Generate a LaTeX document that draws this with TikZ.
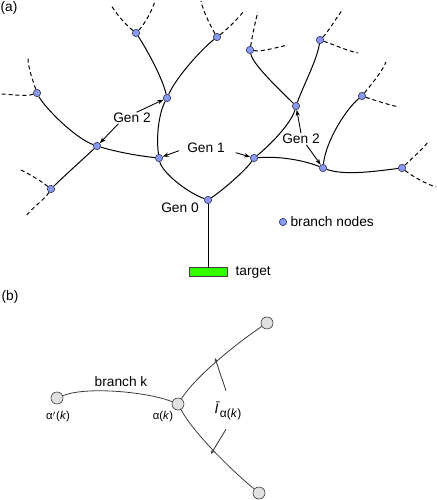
\documentclass[tikz,border=0pt]{standalone}
\usepackage{fontspec}
\setmainfont{Liberation Sans}
\usetikzlibrary{arrows.meta}
\definecolor{nodeblue}{RGB}{135,155,240}
\definecolor{nodeedge}{RGB}{60,60,100}
\definecolor{tgreen}{RGB}{51,255,0}
\definecolor{lgray}{RGB}{224,224,224}
\definecolor{dgray}{RGB}{60,60,60}
\begin{document}
\begin{tikzpicture}[x=0.75pt,y=-0.75pt,
  bn/.style={circle,fill=nodeblue,draw=nodeedge,line width=0.5pt,minimum size=5.5pt,inner sep=0pt},
  brline/.style={line width=0.75pt},
  dashleaf/.style={line width=0.75pt,dash pattern=on 3pt off 2.2pt},
  genarr/.style={line width=0.65pt,-{Stealth[length=4.5pt,width=3.2pt]}},
  lbl/.style={font=\fontsize{10.3pt}{12pt}\selectfont,inner sep=1pt},
  gn/.style={circle,fill=lgray,draw=dgray,line width=0.5pt,minimum size=9pt,inner sep=0pt},
  barc/.style={draw=dgray,line width=0.6pt},
  iarr/.style={draw=dgray,line width=0.65pt,-{Stealth[length=3pt,width=2.4pt]}},
  alabel/.style={font=\fontsize{8.5pt}{10pt}\selectfont,inner sep=0pt}
]
\useasboundingbox (0,0) rectangle (436,500);

% ---------- (a) ----------
\node[lbl] (pa) at (9,8) {(a)};

\node[bn] (N0) at (208,200) {};
\node[bn] (L1) at (159,158) {};
\node[bn] (R1) at (254,158) {};
\node[bn] (L2a) at (97,146) {};
\node[bn] (L2b) at (167,98) {};
\node[bn] (R2a) at (296,106) {};
\node[bn] (R2b) at (323,168) {};
\node[bn] (La1) at (37,93) {};
\node[bn] (La2) at (51,189) {};
\node[bn] (Lb1) at (136,33) {};
\node[bn] (Lb2) at (217,37) {};
\node[bn] (Ra1) at (250,50) {};
\node[bn] (Ra2) at (320,40) {};
\node[bn] (Rb1) at (362,96) {};
\node[bn] (Rb2) at (402,168) {};

\node[draw=black!75,fill=tgreen,line width=0.6pt,minimum width=28.5pt,minimum height=6.75pt,inner sep=0pt] (tg) at (208,272) {};
\node[lbl,anchor=west] (tgt) at (234,272) {target};

\node[bn] (lg) at (283,222) {};
\node[lbl,anchor=west] (lgt) at (289,222) {branch nodes};

% solid branches
\draw[brline] (N0) -- (tg);
\draw[brline] (N0) .. controls +(-22,-8) and +(3,14) .. (L1);
\draw[brline] (N0) .. controls +(15,-10) and +(-8,12) .. (R1);
\draw[brline] (L1) .. controls +(-20,-2) and +(20,6) .. (L2a);
\draw[brline] (L1) .. controls +(-3,-22) and +(-8,15) .. (L2b);
\draw[brline] (L2a) .. controls +(-22,-8) and +(8,15) .. (La1);
\draw[brline] (L2a) .. controls +(-15,14) and +(10,-10) .. (La2);
\draw[brline] (L2b) .. controls +(-5,-22) and +(8,12) .. (Lb1);
\draw[brline] (L2b) .. controls +(10,-22) and +(-15,12) .. (Lb2);
\draw[brline] (R1) .. controls +(15,-12) and +(-5,18) .. (R2a);
\draw[brline] (R1) .. controls +(25,-2) and +(-20,-8) .. (R2b);
\draw[brline] (R2a) .. controls +(-15,-15) and +(3,15) .. (Ra1);
\draw[brline] (R2a) .. controls +(8,-22) and +(-3,20) .. (Ra2);
\draw[brline] (R2b) .. controls +(3,-28) and +(-15,12) .. (Rb1);
\draw[brline] (R2b) .. controls +(22,8) and +(-25,3) .. (Rb2);

% dashed continuations
\coordinate (da1) at (28,58);  \coordinate (da2) at (0,94);
\coordinate (db1) at (21,170); \coordinate (db2) at (26,216);
\coordinate (dc1) at (111,5);  \coordinate (dc2) at (155,1);
\coordinate (dd1) at (201,1);  \coordinate (dd2) at (243,12);
\coordinate (de1) at (258,12); \coordinate (de2) at (288,45);
\coordinate (df1) at (343,9);  \coordinate (df2) at (358,53);
\coordinate (dg1) at (386,62); \coordinate (dg2) at (399,107);
\coordinate (dh1) at (428,142);\coordinate (dh2) at (436,187);
\draw[dashleaf] (La1) .. controls +(-4,-12) and +(0,10) .. (da1);
\draw[dashleaf] (La1) .. controls +(-12,4) and +(10,0) .. (da2);
\draw[dashleaf] (La2) .. controls +(-10,-8) and +(10,5) .. (db1);
\draw[dashleaf] (La2) .. controls +(-6,10) and +(6,-8) .. (db2);
\draw[dashleaf] (Lb1) .. controls +(-10,-8) and +(6,10) .. (dc1);
\draw[dashleaf] (Lb1) .. controls +(8,-8) and +(-3,10) .. (dc2);
\draw[dashleaf] (Lb2) .. controls +(-6,-10) and +(2,10) .. (dd1);
\draw[dashleaf] (Lb2) .. controls +(8,-6) and +(-6,8) .. (dd2);
\draw[dashleaf] (Ra1) .. controls +(2,-12) and +(-3,10) .. (de1);
\draw[dashleaf] (Ra1) .. controls +(12,2) and +(-10,2) .. (de2);
\draw[dashleaf] (Ra2) .. controls +(8,-8) and +(-6,8) .. (df1);
\draw[dashleaf] (Ra2) .. controls +(12,4) and +(-10,-2) .. (df2);
\draw[dashleaf] (Rb1) .. controls +(8,-10) and +(-4,10) .. (dg1);
\draw[dashleaf] (Rb1) .. controls +(12,4) and +(-10,-2) .. (dg2);
\draw[dashleaf] (Rb2) .. controls +(8,-8) and +(-6,8) .. (dh1);
\draw[dashleaf] (Rb2) .. controls +(10,8) and +(-10,-3) .. (dh2);

% generation labels
\node[lbl] (g2l) at (132,118) {Gen 2};
\node[lbl] (g1) at (206,148) {Gen 1};
\node[lbl] (g0) at (180,208) {Gen 0};
\node[lbl] (g2r) at (301,139) {Gen 2};
\draw[genarr] ([xshift=3.5pt,yshift=-0.5pt]g2l.north) -- (L2b);
\draw[genarr] ([xshift=5pt,yshift=0.5pt]g2l.south west) -- (L2a);
\draw[genarr] ([xshift=-5pt,yshift=-2pt]g1.west) -- (L1);
\draw[genarr] ([xshift=7pt,yshift=-3.5pt]g1.east) -- (R1);
\draw[genarr] ([yshift=-0.5pt]g2r.north) -- (R2a);
\draw[genarr] ([xshift=4pt,yshift=0.5pt]g2r.south) -- (R2b);

% ---------- (b) ----------
\node[lbl] (pb) at (10,297) {(b)};
\node[gn] (ap) at (57,398) {};
\node[gn] (ak) at (178,404) {};
\node[gn] (bt) at (267,323) {};
\node[gn] (bb) at (259,493) {};
\draw[barc] (ap) .. controls +(30,-12) and +(-30,-12) .. (ak);
\draw[barc] (ak) .. controls +(18,-28) and +(-30,20) .. (bt);
\draw[barc] (ak) .. controls +(15,28) and +(-30,-25) .. (bb);
\node[lbl] (bk) at (121,382) {branch k};
\node[alabel] (apl) at (58,417) {α$'$(\textit{k})};
\node[alabel] (akl) at (163,417) {α(\textit{k})};
\node[inner sep=0pt] (ilab) at (228,411) {\fontsize{10.5pt}{12pt}\selectfont\textit{Ī}\raisebox{-0.6ex}{\fontsize{9pt}{10pt}\selectfont α(\textit{k})}};
\coordinate (tipU) at (215,358);
\coordinate (tipD) at (211,454);
\draw[iarr] ([xshift=-1.5pt,yshift=8pt]ilab.north) -- (tipU);
\draw[iarr] ([xshift=-1.5pt,yshift=-6.5pt]ilab.south) -- (tipD);
\end{tikzpicture}
\end{document}
